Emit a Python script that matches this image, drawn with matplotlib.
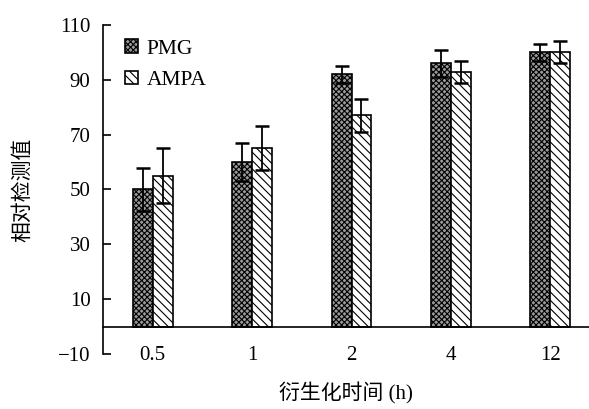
import matplotlib
matplotlib.use("Agg")
import matplotlib.pyplot as plt
import numpy as np

plt.rcParams['hatch.linewidth'] = 0.8
plt.rcParams['hatch.color'] = '#222222'

categories = ["0.5", "1", "2", "4", "12"]
pmg = [50, 60, 92, 96, 100]
pmg_err = [8, 7, 3, 5, 3]
ampa = [55, 65, 77, 93, 100]
ampa_err = [10, 8, 6, 4, 4]
yticks = [-10, 10, 30, 50, 70, 90, 110]

serif = ['Liberation Serif', 'DejaVu Serif']
cjk = ['Noto Sans CJK SC', 'DejaVu Sans']

fig = plt.figure(figsize=(5.89, 4.09), dpi=100)
ax = fig.add_axes([0.175, 0.1345, 0.825, 0.8045])

x = np.arange(len(categories))
w = 0.2
b1 = ax.bar(x - w/2, pmg, w, color='#9a9a9a', edgecolor='#222222', hatch='xxxxxx',
            linewidth=1.0, label='PMG', zorder=2)
b2 = ax.bar(x + w/2, ampa, w, color='white', edgecolor='black', hatch='\\\\\\\\',
            linewidth=1.0, label='AMPA', zorder=2)
for b in list(b1) + list(b2):
    b.set_edgecolor('black')
    b.set_linewidth(1.2)
ax.errorbar(x - w/2, pmg, yerr=pmg_err, fmt='none', ecolor='black', capsize=5,
            elinewidth=1.3, capthick=1.8, zorder=3)
ax.errorbar(x + w/2, ampa, yerr=ampa_err, fmt='none', ecolor='black', capsize=5,
            elinewidth=1.3, capthick=1.8, zorder=3)

ax.set_xlim(-0.5, 4.39)
ax.set_ylim(-10, 110)
ax.axhline(0, color='black', linewidth=1.2, zorder=4, clip_on=False)

for s in ['top', 'right', 'bottom']:
    ax.spines[s].set_visible(False)
ax.spines['left'].set_linewidth(1.2)
ax.set_yticks(yticks)
ax.set_yticklabels([("\u2212" + str(-v)) if v < 0 else str(v) for v in yticks],
                   fontfamily=serif, fontsize=15)
ax.tick_params(axis='y', direction='in', length=6, width=1.2, pad=9)
ax.set_xticks(x)
ax.set_xticklabels(categories, fontfamily=serif, fontsize=15)
ax.tick_params(axis='x', length=0, pad=-6)

ax.set_ylabel("相对检测值", fontfamily=cjk, fontsize=15)
ax.yaxis.set_label_coords(22 / 589, 0.5 * (1 - 25 / 409) + 0.5 * (1 - 354 / 409),
                          transform=fig.transFigure)
ax.set_xlabel("衍生化时间 (h)", fontfamily=['Liberation Serif', 'Noto Sans CJK SC'],
              fontsize=15)
ax.xaxis.set_label_coords(346 / 589, 1 - 393 / 409, transform=fig.transFigure)
ax.xaxis.label.set_verticalalignment('center')
ax.yaxis.label.set_verticalalignment('center')

leg = ax.legend(loc='upper left', bbox_to_anchor=(0.005, 1.015), frameon=False,
                prop={'family': serif, 'size': 15.5}, handlelength=0.6,
                handleheight=0.6, handletextpad=0.4, labelspacing=0.55)

fig.savefig("out.png", dpi=100)
